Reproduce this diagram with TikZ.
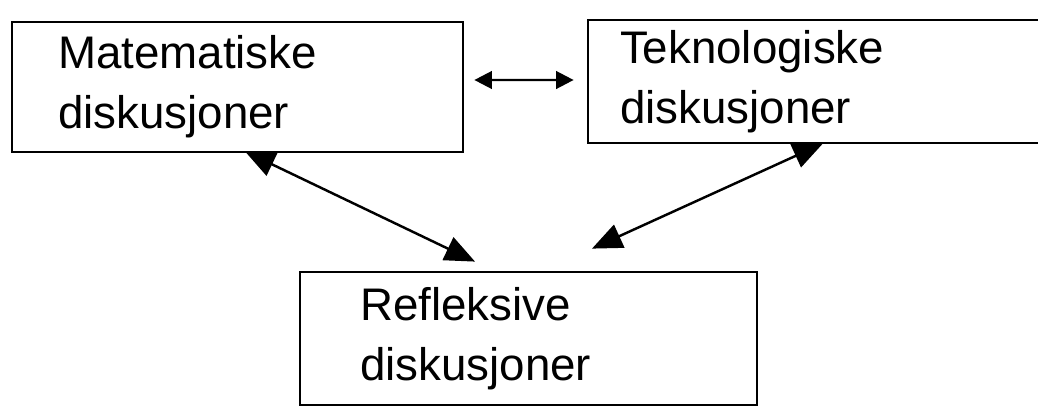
\documentclass[tikz,border=0pt]{standalone}
\usepackage{fontspec}
\setmainfont{Liberation Sans}
\usepackage{tikz}
\usetikzlibrary{arrows.meta,positioning}

\begin{document}
\begin{tikzpicture}[x=0.02cm,y=-0.02cm]
  \tikzstyle{boks}=[draw=black,line width=1.6pt,rectangle,align=left,inner ysep=0pt,
    font=\fontsize{26}{34}\selectfont];
  \tikzstyle{ed}=[draw=black,line width=1.4pt,{Triangle[length=0.6cm,width=0.5cm]}-{Triangle[length=0.6cm,width=0.5cm]}];
  \tikzstyle{edsmall}=[draw=black,line width=1.4pt,{Triangle[length=0.35cm,width=0.35cm]}-{Triangle[length=0.35cm,width=0.35cm]}];
  \clip (0,0) rectangle (1038,409);
  \node [boks,inner xsep=0.92cm,text width=7.18cm,minimum height=2.6cm] (mat) at (237.5,87)
    {Matematiske\\diskusjoner};
  \node [boks,inner xsep=0.64cm,text width=7.86cm,minimum height=2.46cm] (tek) at (816.5,81.5)
    {Teknologiske\\diskusjoner};
  \node [boks,inner xsep=1.2cm,text width=6.74cm,minimum height=2.66cm] (ref) at (528.5,338.5)
    {Refleksive\\diskusjoner};
  \draw [edsmall] ([xshift=0.2cm,yshift=0.14cm]mat.east) -- ([xshift=-0.26cm,yshift=0.03cm]tek.west);
  \draw [ed] ([xshift=0.15cm,yshift=0.04cm]mat.south) -- ([xshift=-1.07cm,yshift=0.18cm]ref.north);
  \draw [ed] ([xshift=0.13cm,yshift=0.02cm]tek.south) -- ([xshift=1.27cm,yshift=0.44cm]ref.north);
\end{tikzpicture}
\end{document}
